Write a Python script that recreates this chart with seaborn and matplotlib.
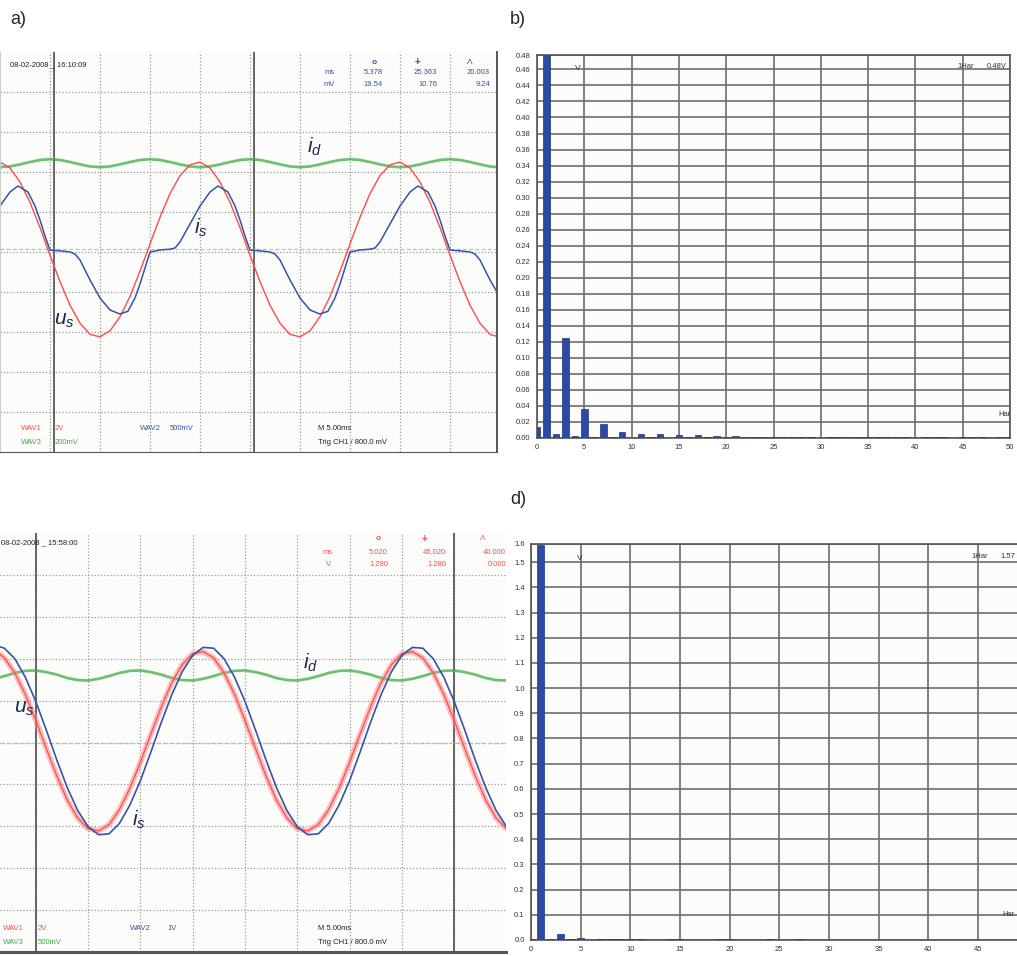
import numpy as np
import pandas as pd
import matplotlib
matplotlib.use("Agg")
import matplotlib.pyplot as plt
import seaborn as sns

# ---- data (time in ms, traces in scope divisions) ----
# a) scope: u_s (red), i_s (blue), i_d (green)
t_a = np.append(np.arange(0, 50, 1.0), 49.7)
us_a = [2.25, 2.10, 1.75, 1.24, 0.61, -0.08, -0.74, -1.33, -1.78, -2.06,
        -2.12, -1.97, -1.62, -1.11, -0.48, 0.20, 0.87, 1.46, 1.91, 2.18,
        2.25, 2.10, 1.75, 1.24, 0.61, -0.08, -0.74, -1.33, -1.78, -2.06,
        -2.12, -1.97, -1.62, -1.11, -0.48, 0.20, 0.87, 1.46, 1.91, 2.18,
        2.25, 2.10, 1.75, 1.24, 0.61, -0.08, -0.74, -1.33, -1.78, -2.06, -2.11]
id_a = [2.12, 2.14, 2.19, 2.25, 2.30, 2.32, 2.30, 2.25, 2.19, 2.14,
        2.12, 2.14, 2.19, 2.25, 2.30, 2.32, 2.30, 2.25, 2.19, 2.14,
        2.12, 2.14, 2.19, 2.25, 2.30, 2.32, 2.30, 2.25, 2.19, 2.14,
        2.12, 2.14, 2.19, 2.25, 2.30, 2.32, 2.30, 2.25, 2.19, 2.14,
        2.12, 2.14, 2.19, 2.25, 2.30, 2.32, 2.30, 2.25, 2.19, 2.14, 2.12]
t_is_a = [0, 1, 1.8, 2.8, 3.5, 4, 4.5, 5, 6, 7, 7.5, 8, 9, 10, 11, 12, 12.8, 13.5, 14, 14.5, 15, 16, 17, 17.5, 18, 19,
          20, 21, 21.8, 22.8, 23.5, 24, 24.5, 25, 26, 27, 27.5, 28, 29, 30, 31, 32, 32.8, 33.5, 34, 34.5, 35, 36, 37, 37.5, 38, 39,
          40, 41, 41.8, 42.8, 43.5, 44, 44.5, 45, 46, 47, 47.5, 48, 49, 49.7]
is_a = [1.15, 1.5, 1.65, 1.5, 1.15, 0.8, 0.4, 0.05, 0.03, 0.0, -0.05, -0.2, -0.7, -1.15, -1.45, -1.55, -1.48, -1.15, -0.8, -0.4, 0.0, 0.05, 0.07, 0.1, 0.25, 0.7,
        1.15, 1.5, 1.65, 1.5, 1.15, 0.8, 0.4, 0.05, 0.03, 0.0, -0.05, -0.2, -0.7, -1.15, -1.45, -1.55, -1.48, -1.15, -0.8, -0.4, 0.0, 0.05, 0.07, 0.1, 0.25, 0.7,
        1.15, 1.5, 1.65, 1.5, 1.15, 0.8, 0.4, 0.05, 0.03, 0.0, -0.05, -0.2, -0.7, -1.0]

# c) scope
t_c = np.append(1.5, np.arange(2, 51, 1.0))
us_c = [2.12,
        2.02, 1.66, 1.15, 0.53, -0.14, -0.79, -1.37, -1.80, -2.06, -2.11,
        -1.96, -1.60, -1.09, -0.47, 0.20, 0.85, 1.43, 1.86, 2.12, 2.17,
        2.02, 1.66, 1.15, 0.53, -0.14, -0.79, -1.37, -1.80, -2.06, -2.11,
        -1.96, -1.60, -1.09, -0.47, 0.20, 0.85, 1.43, 1.86, 2.12, 2.17,
        2.02, 1.66, 1.15, 0.53, -0.14, -0.79, -1.37, -1.80, -2.06]
is_c = [2.29,
        2.25, 2.00, 1.56, 0.98, 0.30, -0.41, -1.07, -1.62, -2.01, -2.20,
        -2.18, -1.93, -1.49, -0.91, -0.23, 0.48, 1.14, 1.69, 2.08, 2.27,
        2.25, 2.00, 1.56, 0.98, 0.30, -0.41, -1.07, -1.62, -2.01, -2.20,
        -2.18, -1.93, -1.49, -0.91, -0.23, 0.48, 1.14, 1.69, 2.08, 2.27,
        2.25, 2.00, 1.56, 0.98, 0.30, -0.41, -1.07, -1.62, -2.01]
id_c = [1.55,
        1.585, 1.66, 1.71, 1.72, 1.68, 1.62, 1.54, 1.49, 1.48, 1.52,
        1.585, 1.66, 1.71, 1.72, 1.68, 1.62, 1.54, 1.49, 1.48, 1.52,
        1.585, 1.66, 1.71, 1.72, 1.68, 1.62, 1.54, 1.49, 1.48, 1.52,
        1.585, 1.66, 1.71, 1.72, 1.68, 1.62, 1.54, 1.49, 1.48, 1.52,
        1.585, 1.66, 1.71, 1.72, 1.68, 1.62, 1.54, 1.49, 1.48]

# b) and d) harmonic spectra (V)
harm_b = np.arange(0, 51)
volt_b = [0.0136, 0.48, 0.0045, 0.1245, 0.002, 0.0359, 0.0017, 0.018, 0.001, 0.0074,
          0.0005, 0.005, 0.0017, 0.005, 0.0003, 0.0033, 0.001, 0.0033, 0.001, 0.003,
          0.001, 0.003, 0.0015, 0.001, 0.001, 0.0015, 0.001, 0.0015, 0.001, 0.001,
          0.0003, 0.0015, 0.001, 0.001, 0.0015, 0.0015, 0.001, 0.001, 0.001, 0.001,
          0.0005, 0.001, 0.0015, 0.001, 0.0003, 0.0012, 0.001, 0.0015, 0.0003, 0.001, 0.001]
harm_d = np.arange(0, 50)
volt_d = [0.005, 1.57, 0.005, 0.024, 0.002, 0.008, 0, 0.002, 0.002, 0.002,
          0.002, 0.002, 0, 0, 0.002, 0.002, 0, 0, 0, 0.002,
          0.002, 0, 0, 0, 0.002, 0, 0, 0.002, 0, 0,
          0, 0, 0, 0, 0, 0, 0, 0, 0, 0,
          0, 0, 0, 0, 0, 0, 0, 0, 0, 0]

yt_b = [0.00, 0.02, 0.04, 0.06, 0.08, 0.10, 0.12, 0.14, 0.16, 0.18, 0.20, 0.22, 0.24,
        0.26, 0.28, 0.30, 0.32, 0.34, 0.36, 0.38, 0.40, 0.42, 0.44, 0.46, 0.478]
yl_b = ["%.2f" % v for v in yt_b[:-1]] + ["0.48"]
yt_d = [0.0, 0.1, 0.2, 0.3, 0.4, 0.5, 0.6, 0.7, 0.8, 0.9, 1.0, 1.1, 1.2, 1.3, 1.4, 1.5, 1.572]
yl_d = ["%.1f" % v for v in yt_d[:-1]] + ["1.6"]
xt_harm = [0, 5, 10, 15, 20, 25, 30, 35, 40, 45, 50]

# ---- figure ----
sns.set_style("white")
plt.rcParams["font.family"] = ["Liberation Sans", "DejaVu Sans"]
plt.rcParams["mathtext.fontset"] = "custom"
plt.rcParams["mathtext.it"] = "Liberation Sans:italic"
plt.rcParams["mathtext.rm"] = "Liberation Sans"

W, H = 1017, 956
fig = plt.figure(figsize=(W / 100, H / 100), dpi=100)


def box(l, t, r, b):
    return [l / W, 1 - b / H, (r - l) / W, (b - t) / H]


def ftxt(x, y, s, **kw):
    kw.setdefault("va", "center")
    fig.text(x / W, 1 - y / H, s, **kw)


RED, BLUE, GREEN = "#ff4b4b", "#3553aa", "#3fae45"
SCREEN = "#fcfcfa"


def scope(ax, xlim, cursors, ground):
    ax.set_facecolor(SCREEN)
    ax.set_xlim(*xlim)
    ax.set_ylim(-5, 5)
    ax.set_xticks([5, 10, 15, 20, 25, 30, 35, 40, 45])
    ax.set_yticks([-4, -3, -2, -1, 0, 1, 2, 3, 4])
    ax.grid(True, color="#9c9c9c", ls=(0, (1, 1.6)), lw=0.9)
    ax.tick_params(length=0, labelbottom=False, labelleft=False)
    for c in cursors:
        ax.axvline(c, color="#5a5a5a", lw=1.3)
    ax.axhline(ground, color="#9fd39f", lw=0.9, ls=(0, (3, 2)))
    ax.set_xlabel("")
    ax.set_ylabel("")


# a) scope
ax_a = fig.add_axes(box(0, 52, 497, 452))
scope(ax_a, (0, 49.7), [5.378, 25.363], 0.07)
sns.lineplot(x=t_a, y=id_a, ax=ax_a, color=GREEN, lw=2.0, alpha=0.75, estimator=None)
sns.lineplot(x=t_a, y=us_a, ax=ax_a, color=RED, lw=1.0, estimator=None)
sns.lineplot(x=t_is_a, y=is_a, ax=ax_a, color=BLUE, lw=1.1, estimator=None)
for s in ["top"]:
    ax_a.spines[s].set_visible(False)
ax_a.spines["left"].set_color("#cccccc")
ax_a.spines["right"].set_color("#555555")
ax_a.spines["bottom"].set_color("#555555")
ax_a.spines["right"].set_linewidth(1.4)

# c) scope
ax_c = fig.add_axes(box(0, 533, 506, 952))
scope(ax_c, (1.58, 49.95), [5.02, 45.02], 0.0)
sns.lineplot(x=t_c, y=id_c, ax=ax_c, color=GREEN, lw=2.0, alpha=0.75, estimator=None)
sns.lineplot(x=t_c, y=us_c, ax=ax_c, color="#ff8a8a", lw=4.0, alpha=0.55, estimator=None)
sns.lineplot(x=t_c, y=us_c, ax=ax_c, color=RED, lw=0.9, estimator=None)
sns.lineplot(x=t_c, y=is_c, ax=ax_c, color=BLUE, lw=1.2, estimator=None)
for s in ["top", "left", "right"]:
    ax_c.spines[s].set_visible(False)
ax_c.spines["bottom"].set_color("#555555")
ax_c.spines["bottom"].set_linewidth(2.2)


def spectrum(ax, harm, volt, xlim, yt, yl):
    ax.set_facecolor(SCREEN)
    sns.barplot(x=harm, y=volt, ax=ax, native_scale=True, color="#2c4aa3",
                saturation=1, width=0.7, edgecolor="#1f3786", linewidth=0.5, zorder=3)
    ax.set_xlim(*xlim)
    ax.set_ylim(0, yt[-1])
    ax.set_yticks(yt)
    ax.set_yticklabels(yl)
    ax.set_xticks([x for x in xt_harm if x <= xlim[1]])
    ax.set_xticklabels([str(x) for x in xt_harm if x <= xlim[1]])
    ax.grid(True, color="#6e6e6e", lw=1.2)
    ax.set_axisbelow(True)
    ax.tick_params(labelsize=5.5, length=3, width=0.7, color="#555555", pad=1.5, labelcolor="#333333")
    for s in ax.spines.values():
        s.set_color("#555555")
        s.set_linewidth(1.2)
    ax.set_xlabel("")
    ax.set_ylabel("")


ax_b = fig.add_axes(box(537, 55, 1010, 438))
spectrum(ax_b, harm_b, volt_b, (0, 50), yt_b, yl_b)

ax_d = fig.add_axes(box(531, 544, 1017, 940))
spectrum(ax_d, harm_d, volt_d, (0, 48.94), yt_d, yl_d)
ax_d.spines["right"].set_visible(False)

# ---- text overlays ----
ftxt(10, 20, "a)", fontsize=13)
ftxt(510, 20, "b)", fontsize=13)
ftxt(510, 500, "d)", fontsize=13)

small = dict(fontsize=5.5)
# a) header
ftxt(10, 65, "08-02-2008 _ 16:10:09", color="#222222", **small)
ftxt(335, 73, "ms", color=BLUE, ha="right", **small)
ftxt(335, 85, "mV", color=BLUE, ha="right", **small)
ftxt(374, 62, "o", color=BLUE, ha="center", fontsize=6, fontweight="bold")
ftxt(417, 62, "+", color=BLUE, ha="center", fontsize=7, fontweight="bold")
ftxt(470, 62, "Λ", color=BLUE, ha="center", fontsize=6)
for x, v1, v2 in [(383, "5.378", "19.54"), (437, "25.363", "10.76"), (490, "20.003", "9.24")]:
    ftxt(x, 73, v1, color=BLUE, ha="right", **small)
    ftxt(x, 85, v2, color=BLUE, ha="right", **small)
# a) footer
ftxt(21, 428, "WAV1", color=RED, **small)
ftxt(55, 428, "2V", color=RED, **small)
ftxt(21, 442, "WAV3", color=GREEN, **small)
ftxt(55, 442, "200mV", color=GREEN, **small)
ftxt(140, 428, "WAV2", color=BLUE, **small)
ftxt(170, 428, "500mV", color=BLUE, **small)
ftxt(318, 428, "M 5.00ms", color="#222222", **small)
ftxt(318, 442, "Trig CH1 / 800.0 mV", color="#222222", **small)
# a) trace labels
lab = dict(fontsize=15, color="#1c2754", ha="center")
ftxt(315, 147, r"$i_d$", **lab)
ftxt(201, 228, r"$i_s$", **lab)
ftxt(64, 320, r"$u_s$", **lab)

# c) header
ftxt(1, 543, "08-02-2008 _ 15:58:00", color="#222222", **small)
ftxt(333, 552, "ms", color=RED, ha="right", **small)
ftxt(331, 564, "V", color=RED, ha="right", **small)
ftxt(378, 539, "o", color=RED, ha="center", fontsize=6, fontweight="bold")
ftxt(424, 539, "+", color=RED, ha="center", fontsize=7, fontweight="bold")
ftxt(483, 539, "Λ", color=RED, ha="center", fontsize=6)
for x, v1, v2 in [(388, "5.020", "1.280"), (446, "45.020", "1.280"), (506, "40.000", "0.000")]:
    ftxt(x, 552, v1, color=RED, ha="right", **small)
    ftxt(x, 564, v2, color=RED, ha="right", **small)
# c) footer
ftxt(3, 928, "WAV1", color=RED, **small)
ftxt(38, 928, "2V", color=RED, **small)
ftxt(3, 943, "WAV3", color=GREEN, **small)
ftxt(38, 943, "500mV", color=GREEN, **small)
ftxt(130, 928, "WAV2", color=BLUE, **small)
ftxt(167, 928, "1V", color=BLUE, **small)
ftxt(318, 928, "M 5.00ms", color="#222222", **small)
ftxt(318, 943, "Trig CH1 / 800.0 mV", color="#222222", **small)
ftxt(311, 663, r"$i_d$", **lab)
ftxt(24, 708, r"$u_s$", **lab)
ftxt(139, 820, r"$i_s$", **lab)

# b) / d) annotations
ftxt(578, 69, "V", color="#333333", ha="center", fontsize=6)
ftxt(957, 67, "1Har", color="#333333", fontsize=5.5)
ftxt(987, 67, "0.48V", color="#333333", fontsize=5.5)
ftxt(998, 415, "Har", color="#333333", fontsize=5.5)
ftxt(580, 558, "V", color="#333333", ha="center", fontsize=6)
ftxt(971, 557, "1Har", color="#333333", fontsize=5.5)
ftxt(1015, 557, "1.57", color="#333333", ha="right", fontsize=5.5)
ftxt(1015, 915, "Har", color="#333333", ha="right", fontsize=5.5)

fig.savefig("out.png", dpi=100)
